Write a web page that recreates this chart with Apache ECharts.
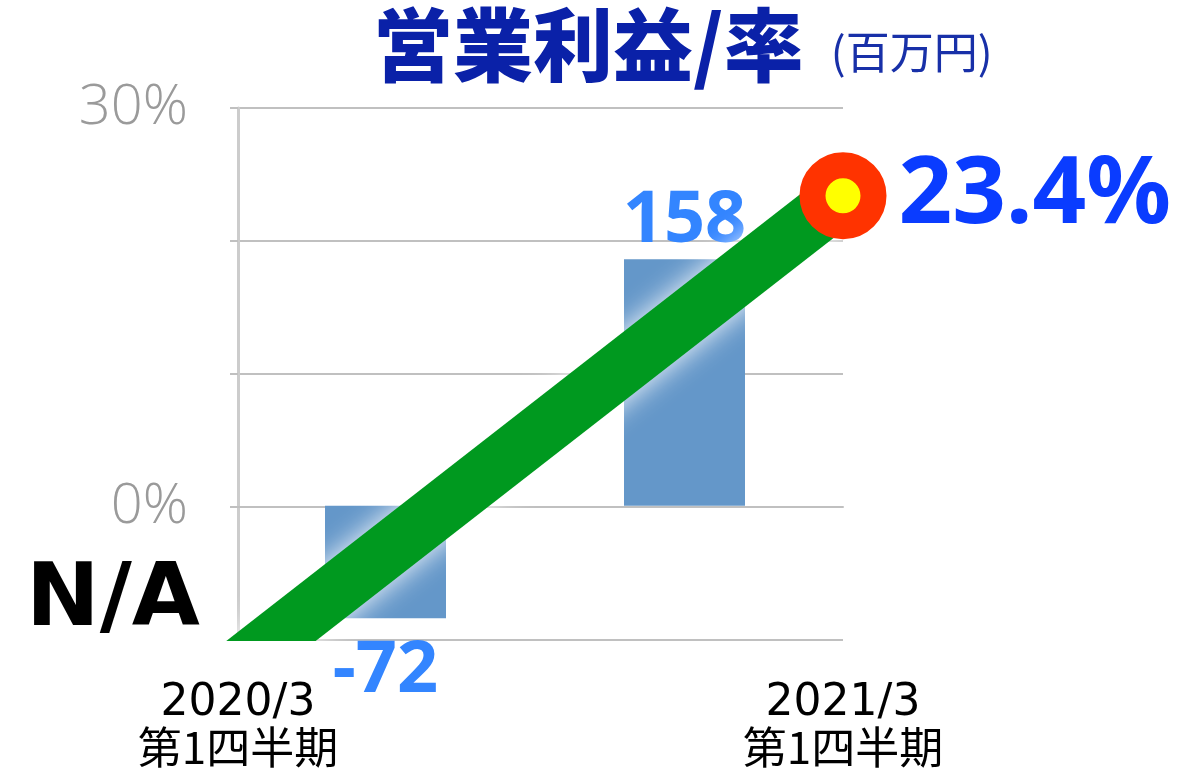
<!DOCTYPE html>
<html>
<head>
<meta charset="utf-8">
<script src="https://cdn.jsdelivr.net/npm/echarts@6/dist/echarts.min.js"></script>
<style>
  html, body { margin: 0; padding: 0; background: #fff; }
  #opChart { width: 1196px; height: 771px; }
</style>
</head>
<body>
<div id="opChart"></div>
<script>
// データ
const categories = ['2020/3\n第1四半期', '2021/3\n第1四半期'];
const operatingProfit = [-72, 158];      // 営業利益（百万円）
const profitRate = [-12, 23.4];          // 営業利益率（%）, 先頭は N/A（軸の下から出てくる）
const rateTicks = [30, 0];               // 表示する目盛ラベル

const lastIdx = profitRate.length - 1;

let myChart = echarts.init(document.getElementById('opChart'));

const option = {
  animation: false,
  title: {
    text: '{main|営業利益/率} {unit|(百万円)}',
    left: 368,
    top: -8,
    textStyle: {
      rich: {
        main: {
          fontFamily: 'Noto Sans CJK JP',
          fontSize: 80,
          fontWeight: 900,
          color: '#0a21a8',
          lineHeight: 96
        },
        unit: {
          fontFamily: 'Noto Sans CJK JP',
          fontSize: 44,
          fontWeight: 'normal',
          color: '#1830a8',
          padding: [14, 0, 0, 22]
        }
      }
    }
  },
  // 0: 折れ線用, 1: 棒グラフ用（少し左寄せ）
  grid: [{
    left: 238,
    right: 353,
    top: 108,
    bottom: 131
  }, {
    left: 236,
    right: 362,
    top: 108,
    bottom: 131
  }],
  xAxis: [{
    type: 'category',
    gridIndex: 0,
    data: categories,
    boundaryGap: false,
    axisLine: { show: true, lineStyle: { color: '#c0c0c0', width: 2 } },
    axisTick: { show: false },
    axisLabel: {
      margin: 42,
      color: '#000',
      formatter: function (v) {
        const parts = v.split('\n');
        return '{d|' + parts[0] + '}\n{j|' + parts[1] + '}';
      },
      rich: {
        d: { fontFamily: 'DejaVu Sans', fontSize: 44, lineHeight: 44, color: '#000' },
        j: { fontFamily: 'Noto Sans CJK JP', fontSize: 44, lineHeight: 42, color: '#000' }
      }
    }
  }, {
    type: 'category',
    gridIndex: 1,
    data: categories,
    boundaryGap: true,
    show: false
  }],
  yAxis: [{
    type: 'value',
    gridIndex: 0,
    min: -10,
    max: 30,
    interval: 10,
    axisLine: { show: true, lineStyle: { color: '#cccccc', width: 3 } },
    axisTick: { show: true, length: 8, lineStyle: { color: '#c0c0c0', width: 2 } },
    splitLine: { lineStyle: { color: '#c0c0c0', width: 2 } },
    axisLabel: {
      margin: 50,
      color: '#9a9a9a',
      fontFamily: 'Open Sans',
      fontWeight: 300,
      fontSize: 56,
      formatter: function (v) {
        return rateTicks.indexOf(v) >= 0 ? v + '%' : '';
      }
    }
  }, {
    type: 'value',
    gridIndex: 1,
    min: -86,
    max: 255,
    show: false,
    splitLine: { show: false }
  }],
  series: [{
    name: '営業利益',
    type: 'bar',
    xAxisIndex: 1,
    yAxisIndex: 1,
    barWidth: 121,
    itemStyle: { color: '#6497c9' },
    label: {
      show: true,
      formatter: '{c}',
      color: '#3385ff',
      fontFamily: 'Noto Sans',
      fontWeight: 'bold',
      fontSize: 72
    },
    data: operatingProfit.map(function (v) {
      return {
        value: v,
        label: { position: v < 0 ? 'bottom' : 'top', distance: v < 0 ? 17 : 2 }
      };
    })
  }, {
    name: '営業利益率',
    type: 'line',
    xAxisIndex: 0,
    yAxisIndex: 0,
    lineStyle: {
      color: '#00991f',
      width: 55,
      cap: 'butt',
      shadowColor: 'rgba(255,255,255,0.95)',
      shadowBlur: 28
    },
    itemStyle: {
      color: '#ffff00',
      borderColor: '#ff3300',
      borderWidth: 26
    },
    label: {
      show: false,
      position: 'right',
      distance: 12,
      formatter: '{c}%',
      color: '#0a3cff',
      fontFamily: 'Noto Sans',
      fontWeight: 'bold',
      fontSize: 94
    },
    data: profitRate.map(function (v, i) {
      if (i === lastIdx) {
        return { value: v, symbol: 'circle', symbolSize: 61, label: { show: true } };
      }
      return { value: v, symbol: 'none' };
    })
  }],
  graphic: [{
    // 軸より下にはみ出した線を隠す
    type: 'rect',
    z: 50,
    shape: { x: 150, y: 641, width: 180, height: 28 },
    style: { fill: '#ffffff' }
  }, {
    type: 'text',
    z: 60,
    left: 26,
    top: 558,
    style: {
      text: 'N/A',
      fill: '#000',
      fontFamily: 'DejaVu Sans',
      fontWeight: 'bold',
      fontSize: 88
    }
  }]
};

myChart.setOption(option);
</script>
</body>
</html>
